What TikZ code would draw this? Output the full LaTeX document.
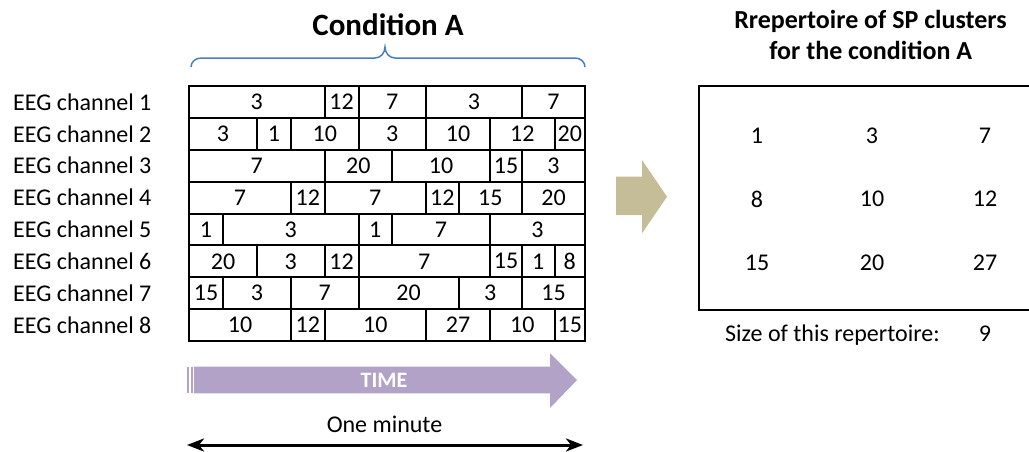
\documentclass[tikz,border=0pt]{standalone}
\usepackage{fontspec}
\setmainfont{Carlito}
\usetikzlibrary{arrows.meta}
\definecolor{braceblue}{HTML}{4A7EBB}
\definecolor{timepurple}{HTML}{B3A2C7}
\definecolor{tanarrow}{HTML}{C4BD97}
\begin{document}
\begin{tikzpicture}[x=1pt,y=-1pt,
  txt/.style={inner sep=0pt, font=\fontsize{24}{28}\selectfont},
  cell/.style={txt, draw=black, line width=2pt},
  lbl/.style={txt, anchor=west},
  ttl/.style={inner sep=0pt, anchor=base, font=\fontsize{26}{30}\selectfont\bfseries},
  bigttl/.style={inner sep=0pt, anchor=base, font=\fontsize{31}{36}\selectfont\bfseries},
  frame/.style={draw=black, line width=2pt},
  spanarrow/.style={line width=3pt, {Stealth[length=17pt,width=13pt,inset=5pt]}-{Stealth[length=17pt,width=13pt,inset=5pt]}}
]
\useasboundingbox (0,0) rectangle (1029,451);

% title and brace
\node[bigttl] (condA) at (388,35) {Condition A};
\draw[braceblue, line width=1.5pt] (191,67) to[out=90,in=180] (201,58) -- (375,58)
  to[out=0,in=-90] (385,47) to[out=-90,in=180] (395,58) -- (575,58) to[out=0,in=90] (585,67);

% channel labels
\foreach \r in {1,...,8} {
  \pgfmathsetmacro\yc{86+(\r-0.5)*31.875}
  \node[lbl] (l\r) at (13,\yc) {EEG channel \r};
}

% cells
\foreach \r/\cells in {
  1/{0/4/3,4/5/12,5/7/7,7/10/3,10/12/7},
  2/{0/2/3,2/3/1,3/5/10,5/7/3,7/9/10,9/11/12,11/12/20},
  3/{0/4/7,4/6/20,6/9/10,9/10/15,10/12/3},
  4/{0/3/7,3/4/12,4/7/7,7/8/12,8/10/15,10/12/20},
  5/{0/1/1,1/5/3,5/6/1,6/9/7,9/12/3},
  6/{0/2/20,2/4/3,4/5/12,5/9/7,9/10/15,10/11/1,11/12/8},
  7/{0/1/15,1/3/3,3/5/7,5/8/20,8/10/3,10/12/15},
  8/{0/3/10,3/4/12,4/7/10,7/9/27,9/11/10,11/12/15}} {
  \foreach \a/\b/\t in \cells {
    \pgfmathsetmacro\xa{{189,223,257,291,324.5,358.5,392,426,458.5,490,522,554.5,585}[\a]}
    \pgfmathsetmacro\xb{{189,223,257,291,324.5,358.5,392,426,458.5,490,522,554.5,585}[\b]}
    \pgfmathsetmacro\xc{(\xa+\xb)/2}
    \pgfmathsetmacro\w{\xb-\xa}
    \pgfmathsetmacro\yc{86+(\r-0.5)*31.875}
    \node[cell, minimum width=\w pt, minimum height=31.875pt] (c\r-\a) at (\xc,\yc) {\t};
  }
}

% TIME arrow
\fill[timepurple] (187,366.7) rectangle (189,393.3);
\fill[timepurple] (190.5,366.7) rectangle (192.5,393.3);
\fill[timepurple] (194,366.7) -- (550,366.7) -- (550,353) -- (577,380) -- (550,408) -- (550,393.3) -- (194,393.3) -- cycle;
\node[inner sep=0pt, text=white, font=\fontsize{22}{26}\selectfont\bfseries] (time) at (384,380) {TIME};

% one minute
\node[txt] (onemin) at (384.5,424) {One minute};
\coordinate (spanL) at (187,445);
\coordinate (spanR) at (583,445);
\draw[spanarrow] (spanL) -- (spanR);

% tan block arrow
\fill[tanarrow] (616,176.7) -- (642,176.7) -- (642,160) -- (667,196.7) -- (642,233.3) -- (642,215) -- (616,215) -- cycle;

% repertoire
\node[ttl] (rt1) at (870.5,28.5) {Rrepertoire of SP clusters};
\node[ttl] (rt2) at (870.7,59.5) {for the condition A};
\draw[frame] (1030,86) -- (699,86) -- (699,310) -- (1030,310);
\foreach \t [count=\i from 0] in {1,3,7,8,10,12,15,20,27} {
  \pgfmathtruncatemacro\col{mod(\i,3)}
  \pgfmathtruncatemacro\row{int(\i/3)}
  \pgfmathsetmacro\xc{{757,872,985}[\col]}
  \pgfmathsetmacro\yc{{135.5,199,262.5}[\row]}
  \node[txt] (r\i) at (\xc,\yc) {\t};
}
\node[txt, anchor=base west] (sizelbl) at (725,341.5) {Size of this repertoire:};
\node[txt, anchor=base] (sizeval) at (985,341.5) {9};
\end{tikzpicture}
\end{document}
